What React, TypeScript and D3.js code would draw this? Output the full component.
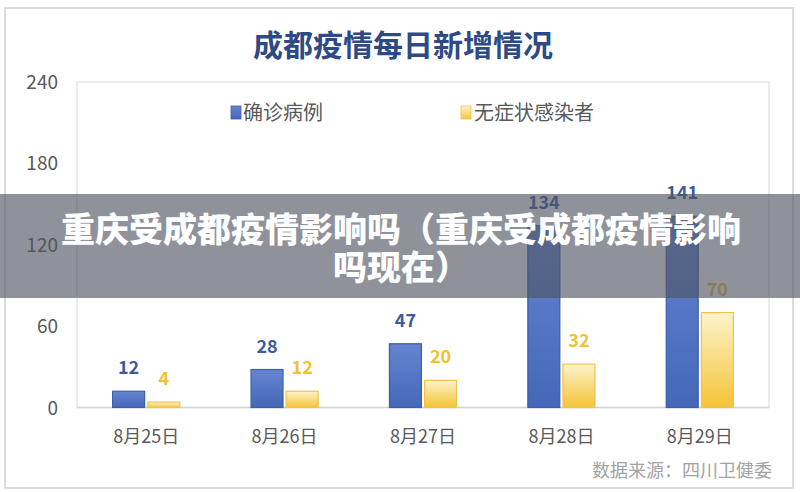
import React from 'react';
import * as d3 from 'd3';

const dates = ['8月25日', '8月26日', '8月27日', '8月28日', '8月29日'];
const seriesNames = ['确诊病例', '无症状感染者'];
const confirmed = [12, 28, 47, 134, 141];
const asymptomatic = [4, 12, 20, 32, 70];
const yTicks = [0, 60, 120, 180, 240];

const title = '成都疫情每日新增情况';
const source = '数据来源：四川卫健委';
const bannerLines = ['重庆受成都疫情影响吗（重庆受成都疫情影响', '吗现在）'];

const W = 800;
const H = 492;
const plot = { left: 77, right: 769, top: 82, bottom: 407.5 };
const font = '"Noto Sans CJK SC", "Noto Sans", sans-serif';

const labelColors = ['#3d5a9e', '#f2c12e'];

const App: React.FC = () => {
  const x = d3
    .scaleBand<string>()
    .domain(dates)
    .range([plot.left, plot.right])
    .paddingInner(0.515)
    .paddingOuter(0.2575);

  const xs = d3
    .scaleBand<string>()
    .domain(seriesNames)
    .range([0, x.bandwidth()])
    .paddingInner(0.09);

  const y = d3.scaleLinear().domain([0, 240]).range([plot.bottom, plot.top]);

  const rows = dates.map((d, i) => ({ date: d, values: [confirmed[i], asymptomatic[i]] }));

  return (
    <svg
      width={W}
      height={H}
      style={{ position: 'absolute', left: 0, top: 0, background: '#fff' }}
      fontFamily={font}
    >
      <defs>
        <linearGradient id="gBlue" x1="0" y1="0" x2="0" y2="1">
          <stop offset="0" stopColor="#6585cf" />
          <stop offset="1" stopColor="#4467b9" />
        </linearGradient>
        <linearGradient id="gYellow" x1="0" y1="0" x2="0" y2="1">
          <stop offset="0" stopColor="#fdf3cc" />
          <stop offset="1" stopColor="#f5c435" />
        </linearGradient>
      </defs>

      {/* outer frame */}
      <rect x={5} y={8} width={788} height={480} fill="#fff" stroke="#dcdcdc" strokeWidth={2} />

      <text x={403} y={56} textAnchor="middle" fontSize={30} fontWeight={700} fill="#2e4a85">
        {title}
      </text>

      {/* plot box */}
      <rect
        x={plot.left}
        y={plot.top}
        width={plot.right - plot.left}
        height={plot.bottom - plot.top}
        fill="none"
        stroke="#e6e6e6"
        strokeWidth={1.5}
      />
      <line x1={plot.left} x2={plot.right} y1={plot.bottom} y2={plot.bottom} stroke="#d4d4d4" strokeWidth={1.5} />

      {/* y ticks */}
      {yTicks.map((t) => (
        <text key={t} x={58} y={y(t) + 7} textAnchor="end" fontSize={19} fill="#595959">
          {t}
        </text>
      ))}

      {/* legend */}
      <g fontSize={20} fill="#595959">
        <rect x={231} y={106} width={10} height={13} fill="url(#gBlue)" stroke="#3d5ea8" strokeWidth={0.8} />
        <text x={243} y={120}>{seriesNames[0]}</text>
        <rect x={461} y={106} width={10} height={13} fill="url(#gYellow)" stroke="#efc34a" strokeWidth={0.8} />
        <text x={474} y={120}>{seriesNames[1]}</text>
      </g>

      {/* bars */}
      {rows.map((r) => (
        <g key={r.date} transform={`translate(${x(r.date)},0)`}>
          {r.values.map((v, j) => {
            const bx = xs(seriesNames[j])!;
            const by = y(v);
            return (
              <g key={j}>
                <rect
                  x={bx}
                  y={by}
                  width={xs.bandwidth()}
                  height={plot.bottom - by}
                  fill={j === 0 ? 'url(#gBlue)' : 'url(#gYellow)'}
                  stroke={j === 0 ? '#3d5ea8' : '#efc34a'}
                  strokeWidth={1.2}
                />
                <text
                  x={bx + xs.bandwidth() / 2}
                  y={by - 17}
                  textAnchor="middle"
                  fontSize={18}
                  fontWeight={700}
                  fill={labelColors[j]}
                >
                  {v}
                </text>
              </g>
            );
          })}
        </g>
      ))}

      {/* x labels */}
      {dates.map((d) => (
        <text key={d} x={x(d)! + x.bandwidth() / 2} y={443} textAnchor="middle" fontSize={18} fill="#595959">
          {d}
        </text>
      ))}

      <text x={772} y={477} textAnchor="end" fontSize={18} fill="#a3a3a3">
        {source}
      </text>

      {/* overlay banner */}
      <rect x={0} y={194} width={W} height={104} fill="rgba(80,84,98,0.64)" />
      <g fontSize={34} fontWeight={900} fill="#fff" textAnchor="middle">
        <text x={401} y={242}>{bannerLines[0]}</text>
        <text x={401} y={280}>{bannerLines[1]}</text>
      </g>
    </svg>
  );
};

export default App;
